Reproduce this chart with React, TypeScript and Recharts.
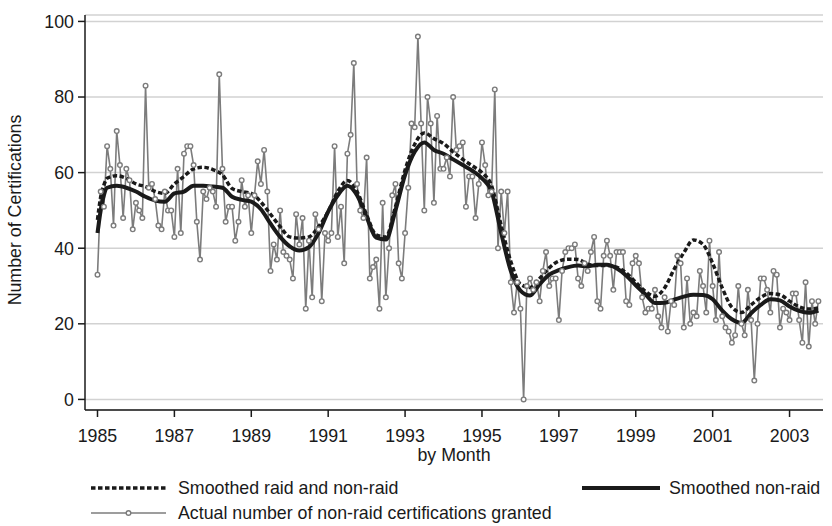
import React from 'react';
import { LineChart, Line, XAxis, YAxis, CartesianGrid, Label } from 'recharts';

const FONT = '"Liberation Sans", Arial, sans-serif';
const FS = 17.8;
const START_YEAR = 1985;

// Actual monthly number of non-raid certifications, Jan 1985 onward
const actual = [
  33, 55, 51, 67, 61, 46, 71, 62, 48, 61, 58, 45,
  52, 50, 48, 83, 56, 57, 53, 46, 45, 55, 50, 50,
  43, 61, 44, 65, 67, 67, 62, 47, 37, 55, 53, 56,
  55, 51, 86, 61, 47, 51, 51, 42, 47, 58, 51, 54,
  44, 54, 63, 57, 66, 55, 34, 41, 37, 50, 39, 38,
  37, 32, 49, 41, 48, 24, 42, 27, 49, 45, 26, 44,
  42, 44, 67, 43, 51, 36, 65, 70, 89, 57, 50, 48,
  64, 32, 35, 37, 24, 52, 27, 40, 54, 57, 36, 32,
  44, 56, 73, 72, 96, 73, 50, 80, 73, 52, 75, 61,
  61, 64, 59, 80, 66, 67, 68, 51, 59, 59, 48, 57,
  68, 62, 54, 55, 82, 40, 55, 44, 55, 31, 23, 31,
  24, 0, 30, 32, 29, 31, 26, 34, 39, 30, 32, 32,
  21, 34, 39, 40, 40, 41, 32, 30, 36, 34, 39, 43,
  26, 24, 38, 42, 38, 29, 39, 39, 39, 26, 25, 36,
  38, 36, 27, 23, 24, 24, 29, 22, 19, 27, 18, 26,
  25, 38, 36, 19, 32, 20, 23, 22, 34, 30, 23, 42,
  30, 21, 39, 22, 19, 18, 15, 17, 30, 20, 17, 29,
  21, 5, 20, 32, 32, 29, 23, 34, 33, 19, 24, 23,
  21, 28, 28, 21, 15, 31, 14, 26, 20, 26,
];

// Months (index from Jan 1985) at which the smoothed curves were read
const smoothMonths = [
  0, 1, 2, 3, 6, 9, 12, 15, 18, 21, 24, 27, 30, 33, 36, 39, 42, 45, 48, 51,
  54, 57, 60, 63, 66, 69, 72, 75, 78, 81, 84, 87, 90, 93, 96, 99, 102, 105,
  108, 111, 114, 117, 120, 123, 126, 129, 132, 135, 138, 141, 144, 147, 150,
  153, 156, 159, 162, 165, 168, 171, 174, 177, 180, 183, 186, 189, 192, 195,
  198, 201, 204, 207, 210, 213, 216, 219, 222, 225,
];

const smoothAll = [
  47.5, 53.6, 56.7, 58.5, 59.2, 58.5, 57, 56.3, 55, 54.5, 57, 59, 61, 61.4,
  60.8, 59.4, 55.8, 55, 54.5, 52.2, 49, 45.7, 43, 42.7, 43, 45.7, 49.7, 55,
  57.9, 55, 48.8, 43.5, 43, 51, 60.7, 67.5, 70.5, 69, 67.7, 65.5, 63.5, 61.8,
  60, 56.5, 46, 36.5, 30.5, 29.6, 32, 34.8, 36.6, 37.1, 37, 35.8, 35.4, 35.4,
  35, 33.5, 31, 28.6, 27.3, 29.5, 34.5, 38.8, 42.2, 41, 36, 29.5, 24.4, 23,
  25, 27, 28, 27.7, 26, 24.5, 23.9, 24.2,
];

const smoothNonRaid = [
  44, 50, 54, 56, 56.5, 56, 55, 53.6, 52.6, 52.3, 54.5, 55, 56.5, 56.5, 56.3,
  56, 53.6, 52.8, 52.3, 50.3, 46.5, 43, 40.5, 39.4, 40.3, 44, 49.7, 54, 56.5,
  54, 48.2, 42.8, 42.3, 50, 59.4, 65.5, 68, 66, 65, 63.5, 62, 60.5, 58.5, 55,
  44, 34, 28.8, 27.5, 30.5, 33, 34.2, 35, 35.4, 35.2, 35.6, 35.6, 34.7, 32.8,
  30.2, 27.8, 25.5, 25.6, 26.4, 27.2, 27.7, 27.6, 26.5, 23.5, 21.2, 20.2,
  22.8, 25, 26.5, 26.2, 24.6, 23.4, 22.9, 23.5,
];

const xTicks = [1985, 1987, 1989, 1991, 1993, 1995, 1997, 1999, 2001, 2003];
const yTicks = [0, 20, 40, 60, 80, 100];

const data = actual.map((v, m) => {
  const k = smoothMonths.indexOf(m);
  return {
    t: START_YEAR + m / 12,
    actual: v,
    all: k >= 0 ? smoothAll[k] : null,
    nonraid: k >= 0 ? smoothNonRaid[k] : null,
  };
});

const TXT = '#1a1a1a';
const GRAY = '#7c7c7c';
const BLACK = '#1a1a1a';

const YTitle = () => (
  <text
    x={15}
    y={210}
    transform="rotate(-90 15 210)"
    textAnchor="middle"
    dominantBaseline="central"
    fill={TXT}
    fontSize={FS}
    fontFamily={FONT}
  >
    Number of Certifications
  </text>
);

export default function App() {
  return (
    <div style={{ position: 'absolute', left: 0, top: 0, width: 832, height: 526, background: '#fff', fontFamily: FONT }}>
      <LineChart width={832} height={470} data={data} margin={{ top: 15, right: 9, bottom: 0, left: 0 }}>
        <CartesianGrid horizontal vertical={false} stroke="#d2d2d2" strokeWidth={1.5} />
        <XAxis
          dataKey="t"
          type="number"
          domain={[1984.675, 2003.87]}
          ticks={xTicks}
          allowDataOverflow
          height={60}
          tickSize={7}
          tickMargin={12}
          axisLine={{ stroke: BLACK, strokeWidth: 1.5 }}
          tickLine={{ stroke: BLACK, strokeWidth: 1.5 }}
          tick={{ fill: TXT, fontSize: FS, fontFamily: FONT }}
        >
          <Label value="by Month" position="insideTop" offset={38} fill={TXT} fontSize={FS} fontFamily={FONT} />
        </XAxis>
        <YAxis
          type="number"
          domain={[-2.8, 101.7]}
          ticks={yTicks}
          allowDataOverflow
          width={85}
          tickSize={7}
          tickMargin={4}
          axisLine={{ stroke: BLACK, strokeWidth: 1.5 }}
          tickLine={{ stroke: BLACK, strokeWidth: 1.5 }}
          tick={{ fill: TXT, fontSize: FS, fontFamily: FONT }}
        >
          <Label content={<YTitle />} />
        </YAxis>
        <Line
          dataKey="actual"
          type="linear"
          stroke={GRAY}
          strokeWidth={1.6}
          dot={{ r: 2.3, fill: '#fff', stroke: GRAY, strokeWidth: 1.4 }}
          isAnimationActive={false}
        />
        <Line
          dataKey="all"
          type="monotone"
          connectNulls
          stroke={BLACK}
          strokeWidth={3.5}
          strokeDasharray="4.5 2.5"
          dot={false}
          isAnimationActive={false}
        />
        <Line
          dataKey="nonraid"
          type="monotone"
          connectNulls
          stroke={BLACK}
          strokeWidth={4}
          dot={false}
          isAnimationActive={false}
        />
      </LineChart>
      <svg width={832} height={60} style={{ position: 'absolute', left: 0, top: 466 }}>
        <line x1={91} x2={166} y1={22} y2={22} stroke={BLACK} strokeWidth={3.5} strokeDasharray="4.5 2.5" />
        <text x={178} y={22} dominantBaseline="central" fill={TXT} fontSize={FS} fontFamily={FONT}>
          Smoothed raid and non-raid
        </text>
        <line x1={582} x2={660} y1={22} y2={22} stroke={BLACK} strokeWidth={4} />
        <text x={669} y={22} dominantBaseline="central" fill={TXT} fontSize={FS} fontFamily={FONT}>
          Smoothed non-raid
        </text>
        <line x1={91} x2={166} y1={47} y2={47} stroke={GRAY} strokeWidth={1.6} />
        <circle cx={128.5} cy={47} r={2.3} fill="#fff" stroke={GRAY} strokeWidth={1.4} />
        <text x={178} y={47} dominantBaseline="central" fill={TXT} fontSize={FS} fontFamily={FONT}>
          Actual number of non-raid certifications granted
        </text>
      </svg>
    </div>
  );
}
